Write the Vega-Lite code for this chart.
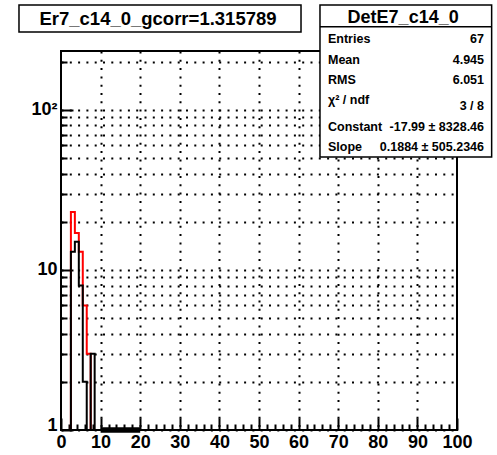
{
"$schema":"https://vega.github.io/schema/vega-lite/v6.json",
"width":396,"height":379,"autosize":"none",
"padding":{"left":61,"top":51,"right":40,"bottom":25},
"background":"white",
"config":{"view":{"stroke":null},"font":"Liberation Sans",
 "axis":{"labelFont":"Liberation Sans","labelFontWeight":"bold","labelFontSize":18,"labelColor":"black","tickColor":"black","tickWidth":2,"gridColor":"black","gridDash":[2,6.3],"gridWidth":2,"domain":false},
 "text":{"font":"Liberation Sans","fontWeight":"bold","fontSize":12.5,"color":"black","baseline":"alphabetic"}},
"datasets":{
 "black":[{"x":0.5,"count":0},{"x":1.5,"count":0},{"x":2.5,"count":13},{"x":3.5,"count":15},{"x":4.5,"count":8},{"x":5.5,"count":2},{"x":6.5,"count":0},{"x":7.5,"count":3},{"x":8.5,"count":0},{"x":9.5,"count":0}],
 "red":[{"x":0.5,"count":0},{"x":1.5,"count":0},{"x":2.5,"count":23},{"x":3.5,"count":17},{"x":4.5,"count":13},{"x":5.5,"count":6},{"x":6.5,"count":3},{"x":7.5,"count":0},{"x":8.5,"count":0}],
 "fit":[{"x":10,"value":1.01e-7},{"x":20,"value":6.6e-7}],
 "titles":[{"id":"title","text":"Er7_c14_0_gcorr=1.315789"},{"id":"stats","text":"DetE7_c14_0"}],
 "stats":[{"name":"Entries","value":"67"},{"name":"Mean","value":"4.945"},{"name":"RMS","value":"6.051"},{"name":"χ² / ndf","value":"3 / 8"},{"name":"Constant","value":"-17.99 ± 8328.46"},{"name":"Slope","value":"0.1884 ± 505.2346"}]
},
"layer":[
  {"data":{"name":"red"},"mark":{"type":"line","interpolate":"step-after","color":"#ff0000","strokeWidth":2},
   "encoding":{
    "x":{"field":"x","type":"quantitative","scale":{"domain":[0,100],"nice":false,"zero":false},
     "axis":{"values":[0,2,4,6,8,10,12,14,16,18,20,22,24,26,28,30,32,34,36,38,40,42,44,46,48,50,52,54,56,58,60,62,64,66,68,70,72,74,76,78,80,82,84,86,88,90,92,94,96,98,100],
      "orient":"bottom","title":null,"labelExpr":"datum.value % 10 === 0 ? datum.label : ''",
      "tickSize":{"condition":{"test":"datum.value % 10 === 0","value":-12},"value":-6},
      "grid":true,"gridOpacity":{"condition":{"test":"datum.value % 10 === 0 && datum.value > 0 && datum.value < 100","value":1},"value":0},
      "labelPadding":15,"labelOverlap":false,"labelFlush":false,"labelBound":false}},
    "y":{"field":"count","type":"quantitative","scale":{"type":"log","domain":[1,233.7],"nice":false,"clamp":true},
     "axis":{"values":[1,2,3,4,5,6,7,8,9,10,20,30,40,50,60,70,80,90,100,200],
      "orient":"left","title":null,"labelExpr":"datum.value === 1 ? '1' : datum.value === 10 ? '10' : datum.value === 100 ? '10²' : ''",
      "tickSize":{"condition":{"test":"datum.value === 1 || datum.value === 10 || datum.value === 100","value":-12},"value":-6},
      "labelOffset":{"condition":{"test":"datum.value === 1","value":-5},"value":0},
      "grid":true,"labelPadding":16,"labelOverlap":false,"labelFlush":false,"labelBound":false}}}},
  {"data":{"name":"black"},"mark":{"type":"line","interpolate":"step-after","color":"black","strokeWidth":2},
   "encoding":{
    "x":{"field":"x","type":"quantitative","scale":{"domain":[0,100],"nice":false,"zero":false},"axis":null},
    "y":{"field":"count","type":"quantitative","scale":{"type":"log","domain":[1,233.7],"nice":false,"clamp":true},"axis":null}}},
  {"data":{"name":"titles"},"transform":[{"filter":"datum.id === 'title'"}],"mark":{"type":"rect","filled":false,"stroke":"black","strokeWidth":2},
   "encoding":{
    "x":{"datum":0,"type":"quantitative","scale":{"domain":[0,100],"nice":false,"zero":false},"axis":null},
    "x2":{"datum":100},
    "y":{"datum":1,"type":"quantitative","scale":{"type":"log","domain":[1,233.7],"nice":false},"axis":null},
    "y2":{"datum":233.7}}},
  {"data":{"name":"fit"},"mark":{"type":"line","color":"black","strokeWidth":5.5},
   "encoding":{
    "x":{"field":"x","type":"quantitative","scale":{"domain":[0,100],"nice":false,"zero":false},"axis":null},
    "y":{"field":"value","type":"quantitative","scale":{"type":"log","domain":[1,233.7],"nice":false,"clamp":true},"axis":null}}},
  {"data":{"name":"titles"},"transform":[{"filter":"datum.id === 'title'"}],"mark":{"type":"rect","fill":"white","stroke":"black","strokeWidth":1.5},
   "encoding":{
    "x":{"datum":-10.61,"type":"quantitative","scale":{"domain":[0,100],"nice":false,"zero":false},"axis":null},
    "x2":{"datum":60.61},
    "y":{"datum":453.2,"type":"quantitative","scale":{"type":"log","domain":[1,233.7],"nice":false},"axis":null},
    "y2":{"datum":307.3}}},
  {"data":{"name":"titles"},"transform":[{"filter":"datum.id === 'title'"}],"mark":{"type":"text","align":"center","fontSize":18.5},
   "encoding":{
    "x":{"datum":24.49,"type":"quantitative","scale":{"domain":[0,100],"nice":false,"zero":false},"axis":null},
    "y":{"datum":339.8,"type":"quantitative","scale":{"type":"log","domain":[1,233.7],"nice":false},"axis":null},
    "text":{"field":"text"}}},
  {"data":{"name":"titles"},"transform":[{"filter":"datum.id === 'stats'"}],"mark":{"type":"rect","fill":"white","stroke":"black","strokeWidth":1.5},
   "encoding":{
    "x":{"datum":65.40,"type":"quantitative","scale":{"domain":[0,100],"nice":false,"zero":false},"axis":null},
    "x2":{"datum":108.75},
    "y":{"datum":453.2,"type":"quantitative","scale":{"type":"log","domain":[1,233.7],"nice":false},"axis":null},
    "y2":{"datum":50.84}}},
  {"data":{"name":"titles"},"transform":[{"filter":"datum.id === 'stats'"}],"mark":{"type":"rule","color":"black","strokeWidth":1.5},
   "encoding":{
    "x":{"datum":65.40,"type":"quantitative","scale":{"domain":[0,100],"nice":false,"zero":false},"axis":null},
    "x2":{"datum":108.75},
    "y":{"datum":331.6,"type":"quantitative","scale":{"type":"log","domain":[1,233.7],"nice":false},"axis":null}}},
  {"data":{"name":"titles"},"transform":[{"filter":"datum.id === 'stats'"}],"mark":{"type":"text","align":"center","fontSize":18},
   "encoding":{
    "x":{"datum":86.4,"type":"quantitative","scale":{"domain":[0,100],"nice":false,"zero":false},"axis":null},
    "y":{"datum":349.9,"type":"quantitative","scale":{"type":"log","domain":[1,233.7],"nice":false},"axis":null},
    "text":{"field":"text"}}},
  {"data":{"name":"stats"},"transform":[{"filter":"datum.name === 'Entries'"}],"mark":{"type":"text","align":"left"},
   "encoding":{"x":{"datum":67.42,"type":"quantitative","scale":{"domain":[0,100],"nice":false,"zero":false},"axis":null},
    "y":{"datum":263.4,"type":"quantitative","scale":{"type":"log","domain":[1,233.7],"nice":false},"axis":null},"text":{"field":"name"}}},
  {"data":{"name":"stats"},"transform":[{"filter":"datum.name === 'Entries'"}],"mark":{"type":"text","align":"right"},
   "encoding":{"x":{"datum":106.82,"type":"quantitative","scale":{"domain":[0,100],"nice":false,"zero":false},"axis":null},
    "y":{"datum":263.4,"type":"quantitative","scale":{"type":"log","domain":[1,233.7],"nice":false},"axis":null},"text":{"field":"value"}}},
  {"data":{"name":"stats"},"transform":[{"filter":"datum.name === 'Mean'"}],"mark":{"type":"text","align":"left"},
   "encoding":{"x":{"datum":67.42,"type":"quantitative","scale":{"domain":[0,100],"nice":false,"zero":false},"axis":null},
    "y":{"datum":193.0,"type":"quantitative","scale":{"type":"log","domain":[1,233.7],"nice":false},"axis":null},"text":{"field":"name"}}},
  {"data":{"name":"stats"},"transform":[{"filter":"datum.name === 'Mean'"}],"mark":{"type":"text","align":"right"},
   "encoding":{"x":{"datum":106.82,"type":"quantitative","scale":{"domain":[0,100],"nice":false,"zero":false},"axis":null},
    "y":{"datum":193.0,"type":"quantitative","scale":{"type":"log","domain":[1,233.7],"nice":false},"axis":null},"text":{"field":"value"}}},
  {"data":{"name":"stats"},"transform":[{"filter":"datum.name === 'RMS'"}],"mark":{"type":"text","align":"left"},
   "encoding":{"x":{"datum":67.42,"type":"quantitative","scale":{"domain":[0,100],"nice":false,"zero":false},"axis":null},
    "y":{"datum":144.8,"type":"quantitative","scale":{"type":"log","domain":[1,233.7],"nice":false},"axis":null},"text":{"field":"name"}}},
  {"data":{"name":"stats"},"transform":[{"filter":"datum.name === 'RMS'"}],"mark":{"type":"text","align":"right"},
   "encoding":{"x":{"datum":106.82,"type":"quantitative","scale":{"domain":[0,100],"nice":false,"zero":false},"axis":null},
    "y":{"datum":144.8,"type":"quantitative","scale":{"type":"log","domain":[1,233.7],"nice":false},"axis":null},"text":{"field":"value"}}},
  {"data":{"name":"stats"},"transform":[{"filter":"datum.name === 'χ² / ndf'"}],"mark":{"type":"text","align":"left"},
   "encoding":{"x":{"datum":67.42,"type":"quantitative","scale":{"domain":[0,100],"nice":false,"zero":false},"axis":null},
    "y":{"datum":108.5,"type":"quantitative","scale":{"type":"log","domain":[1,233.7],"nice":false},"axis":null},"text":{"field":"name"}}},
  {"data":{"name":"stats"},"transform":[{"filter":"datum.name === 'χ² / ndf'"}],"mark":{"type":"text","align":"right"},
   "encoding":{"x":{"datum":106.82,"type":"quantitative","scale":{"domain":[0,100],"nice":false,"zero":false},"axis":null},
    "y":{"datum":100,"type":"quantitative","scale":{"type":"log","domain":[1,233.7],"nice":false},"axis":null},"text":{"field":"value"}}},
  {"data":{"name":"stats"},"transform":[{"filter":"datum.name === 'Constant'"}],"mark":{"type":"text","align":"left"},
   "encoding":{"x":{"datum":67.42,"type":"quantitative","scale":{"domain":[0,100],"nice":false,"zero":false},"axis":null},
    "y":{"datum":74.25,"type":"quantitative","scale":{"type":"log","domain":[1,233.7],"nice":false},"axis":null},"text":{"field":"name"}}},
  {"data":{"name":"stats"},"transform":[{"filter":"datum.name === 'Constant'"}],"mark":{"type":"text","align":"right"},
   "encoding":{"x":{"datum":106.82,"type":"quantitative","scale":{"domain":[0,100],"nice":false,"zero":false},"axis":null},
    "y":{"datum":74.25,"type":"quantitative","scale":{"type":"log","domain":[1,233.7],"nice":false},"axis":null},"text":{"field":"value"}}},
  {"data":{"name":"stats"},"transform":[{"filter":"datum.name === 'Slope'"}],"mark":{"type":"text","align":"left"},
   "encoding":{"x":{"datum":67.42,"type":"quantitative","scale":{"domain":[0,100],"nice":false,"zero":false},"axis":null},
    "y":{"datum":55.67,"type":"quantitative","scale":{"type":"log","domain":[1,233.7],"nice":false},"axis":null},"text":{"field":"name"}}},
  {"data":{"name":"stats"},"transform":[{"filter":"datum.name === 'Slope'"}],"mark":{"type":"text","align":"right"},
   "encoding":{"x":{"datum":106.82,"type":"quantitative","scale":{"domain":[0,100],"nice":false,"zero":false},"axis":null},
    "y":{"datum":55.67,"type":"quantitative","scale":{"type":"log","domain":[1,233.7],"nice":false},"axis":null},"text":{"field":"value"}}}
],
"resolve":{"scale":{"x":"independent","y":"independent"}}
}
